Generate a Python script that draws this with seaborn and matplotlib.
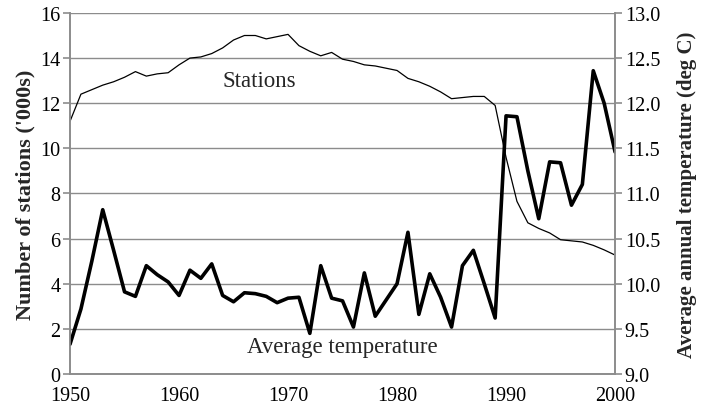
import numpy as np
import pandas as pd
import matplotlib
matplotlib.use("Agg")
import matplotlib.pyplot as plt
import seaborn as sns

# -------------------------------
# Data
# -------------------------------

years = list(range(1950, 2001))

stations = [
    11.2, 12.4, 12.6, 12.8, 12.95, 13.15, 13.4, 13.2, 13.3, 13.35,
    13.7, 14.0, 14.05, 14.2, 14.45, 14.8, 15.0, 15.0, 14.85, 14.95,
    15.05, 14.55, 14.3, 14.1, 14.25, 13.95, 13.85, 13.7, 13.65, 13.55,
    13.45, 13.1, 12.95, 12.75, 12.5, 12.2, 12.25, 12.3, 12.3, 11.9,
    9.6, 7.65, 6.7, 6.45, 6.25, 5.95, 5.9, 5.85, 5.7, 5.5,
    5.27,
]

avg_temp = [
    9.33, 9.72, 10.25, 10.82, 10.37, 9.91, 9.86, 10.2, 10.1, 10.02,
    9.87, 10.15, 10.06, 10.22, 9.87, 9.8, 9.9, 9.89, 9.86, 9.79,
    9.84, 9.85, 9.45, 10.2, 9.84, 9.81, 9.52, 10.12, 9.64, 9.82,
    10.0, 10.57, 9.66, 10.11, 9.85, 9.52, 10.2, 10.37, 10.0, 9.62,
    11.86, 11.85, 11.25, 10.72, 11.35, 11.34, 10.87, 11.1, 12.36, 12.0,
    11.46,
]

df = pd.DataFrame({"Year": years, "Stations": stations, "Temp": avg_temp})

# -------------------------------
# Plot
# -------------------------------

sns.set_style("white")
plt.rcParams["font.family"] = ["Liberation Serif", "DejaVu Serif"]

grey = "#8c8c8c"

fig = plt.figure(figsize=(7.01, 4.10), dpi=100)
ax = fig.add_axes([0.0999, 0.0854, 0.7775, 0.8806])
ax2 = ax.twinx()

sns.lineplot(data=df, x="Year", y="Stations", ax=ax, color="black", linewidth=0.9)
sns.lineplot(data=df, x="Year", y="Temp", ax=ax2, color="black", linewidth=2.6)

ax.set_xlim(1950, 2000)
ax.set_ylim(0, 16)
ax2.set_ylim(9.0, 13.0)

ax.set_xticks(range(1950, 2001, 10))
ax.set_yticks(range(0, 17, 2))
ax2.set_yticks(np.arange(9.0, 13.01, 0.5))
ax2.set_yticklabels([f"{v:.1f}" for v in np.arange(9.0, 13.01, 0.5)])

ax.grid(axis="y", color=grey, linewidth=1.0)
ax.grid(axis="x", visible=False)
ax2.grid(False)
ax.set_axisbelow(True)

for a in (ax, ax2):
    a.spines["top"].set_visible(False)
    for side in ("left", "right", "bottom"):
        a.spines[side].set_color(grey)
        a.spines[side].set_linewidth(1.2)
    a.tick_params(colors=grey, labelcolor="black", labelsize=14.5,
                  length=5, width=1.2, direction="out", pad=2)

ax.tick_params(axis="x", pad=4)

ax.set_xlabel("")
ax.set_ylabel("Number of stations ('000s)", fontsize=16, fontweight="bold", labelpad=3)
ax2.set_ylabel("Average annual temperature (deg C)", fontsize=15, fontweight="bold", labelpad=12)

ax.text(1967.4, 13.0, "Stations", fontsize=16.5, ha="center", va="center")
ax.text(1975.0, 1.2, "Average temperature", fontsize=16.5, ha="center", va="center")

fig.savefig("out.png", dpi=100)
